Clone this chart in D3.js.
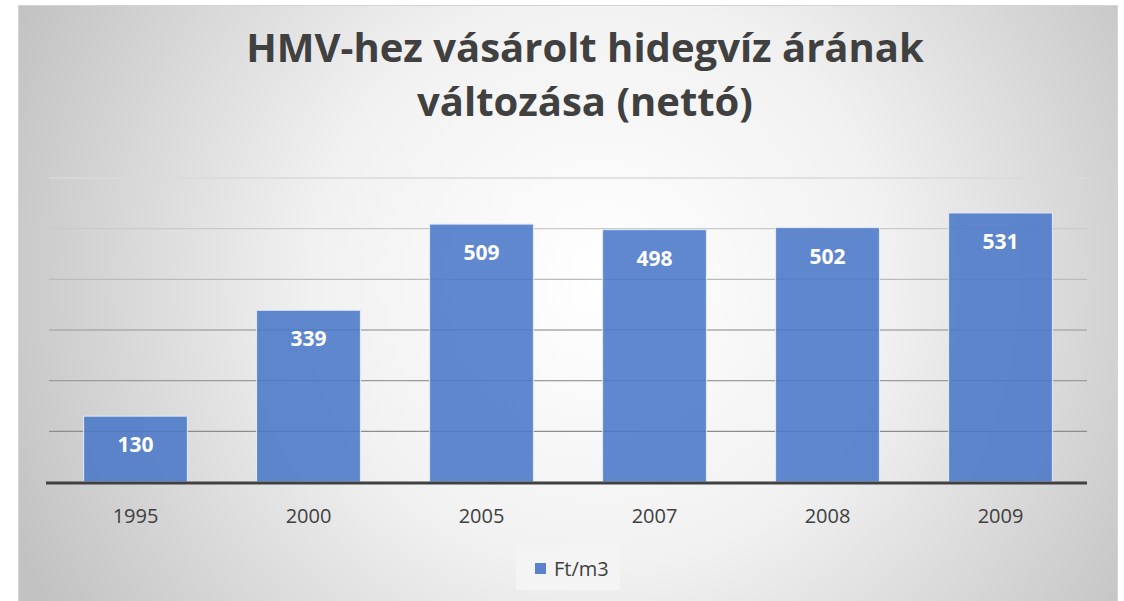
<!DOCTYPE html>
<html>
<head>
<meta charset="utf-8">
<script src="https://cdn.jsdelivr.net/npm/d3@7"></script>
<style>
  body { margin: 0; background: #fff; }
  svg { display: block; }
</style>
</head>
<body>
<svg width="1124" height="601"></svg>
<script>
const svg = d3.select("svg");
const width = +svg.attr("width");
const height = +svg.attr("height");

// adatok
const years = ["1995", "2000", "2005", "2007", "2008", "2009"];
const prices = [130, 339, 509, 498, 502, 531];
const yTicks = [0, 100, 200, 300, 400, 500, 600];
const titleLines = ["HMV-hez vásárolt hidegvíz árának", "változása (nettó)"];
const seriesName = "Ft/m3";

const font = "'Open Sans', sans-serif";

// háttér
const defs = svg.append("defs");
const grad = defs.append("radialGradient")
    .attr("id", "bg")
    .attr("gradientUnits", "userSpaceOnUse")
    .attr("cx", 600).attr("cy", 280).attr("r", 640);
grad.append("stop").attr("offset", "0%").attr("stop-color", "#ffffff");
grad.append("stop").attr("offset", "45%").attr("stop-color", "#f1f1f1");
grad.append("stop").attr("offset", "100%").attr("stop-color", "#c2c2c2");

svg.append("rect")
    .attr("x", 18.5).attr("y", 5.5)
    .attr("width", 1099).attr("height", 600)
    .attr("fill", "url(#bg)")
    .attr("stroke", "#d4d4d4");

const margin = { left: 49, right: 1087, top: 178, bottom: 482 };

const x = d3.scaleBand()
    .domain(years)
    .range([margin.left, margin.right])
    .paddingInner(0.4)
    .paddingOuter(0.2);

const y = d3.scaleLinear()
    .domain([0, 600])
    .range([margin.bottom, margin.top]);

// rácsvonalak
const gridColor = d3.scaleLinear()
    .domain([600, 100])
    .range(["#dadada", "#8c8c8c"]);

svg.append("g")
    .selectAll("line")
    .data(yTicks.filter(d => d > 0))
    .enter()
    .append("line")
    .attr("x1", margin.left)
    .attr("x2", margin.right)
    .attr("y1", d => y(d))
    .attr("y2", d => y(d))
    .attr("stroke", d => gridColor(d))
    .attr("stroke-width", 1.3);

// oszlopok
svg.append("g")
    .selectAll("rect")
    .data(prices)
    .enter()
    .append("rect")
    .attr("x", (d, i) => x(years[i]))
    .attr("y", d => y(d))
    .attr("width", x.bandwidth())
    .attr("height", d => y(0) - y(d))
    .attr("fill", "#4a77c8")
    .attr("fill-opacity", 0.88)
    .attr("stroke", "#e3eaf6")
    .attr("stroke-width", 1);

// tengely
svg.append("line")
    .attr("x1", margin.left - 3)
    .attr("x2", margin.right)
    .attr("y1", y(0) + 1)
    .attr("y2", y(0) + 1)
    .attr("stroke", "#404040")
    .attr("stroke-width", 3);

// értékcímkék
svg.append("g")
    .selectAll("text")
    .data(prices)
    .enter()
    .append("text")
    .attr("x", (d, i) => x(years[i]) + x.bandwidth() / 2)
    .attr("y", d => y(d) + 36)
    .attr("text-anchor", "middle")
    .attr("font-family", font)
    .attr("font-weight", "bold")
    .attr("font-size", 21)
    .attr("fill", "#ffffff")
    .text(d => d);

// x feliratok
svg.append("g")
    .selectAll("text")
    .data(years)
    .enter()
    .append("text")
    .attr("x", d => x(d) + x.bandwidth() / 2)
    .attr("y", 523)
    .attr("text-anchor", "middle")
    .attr("font-family", font)
    .attr("font-size", 20)
    .attr("fill", "#404040")
    .text(d => d);

// cím
svg.append("g")
    .selectAll("text")
    .data(titleLines)
    .enter()
    .append("text")
    .attr("x", 585)
    .attr("y", (d, i) => 62 + i * 54)
    .attr("text-anchor", "middle")
    .attr("font-family", font)
    .attr("font-weight", "bold")
    .attr("font-size", 40)
    .attr("fill", "#404040")
    .text(d => d);

// jelmagyarázat
const legend = svg.append("g");
legend.append("rect")
    .attr("x", 516).attr("y", 545)
    .attr("width", 104).attr("height", 45)
    .attr("fill", "#f4f4f4");
legend.append("rect")
    .attr("x", 535).attr("y", 563)
    .attr("width", 11).attr("height", 11)
    .attr("fill", "#5a82cb");
legend.append("text")
    .attr("x", 554).attr("y", 576)
    .attr("font-family", font)
    .attr("font-size", 20)
    .attr("fill", "#404040")
    .text(seriesName);
</script>
</body>
</html>
